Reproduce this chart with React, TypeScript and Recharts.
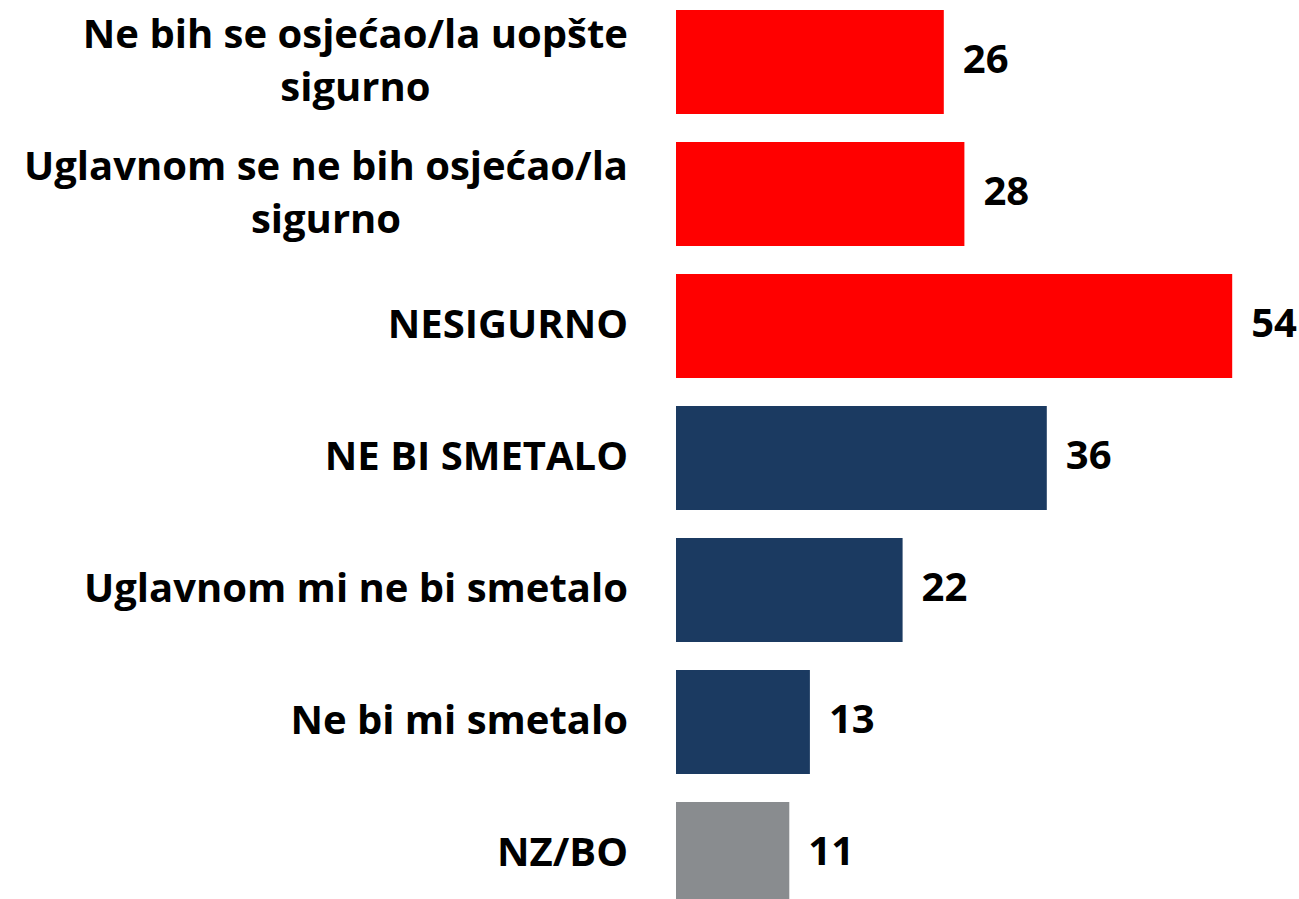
import { BarChart, Bar, XAxis, YAxis, Cell, LabelList } from 'recharts';

const categories = [
  'Ne bih se osjećao/la uopšte sigurno',
  'Uglavnom se ne bih osjećao/la sigurno',
  'NESIGURNO',
  'NE BI SMETALO',
  'Uglavnom mi ne bi smetalo',
  'Ne bi mi smetalo',
  'NZ/BO',
];
const values = [26, 28, 54, 36, 22, 13, 11];
const groups = ['nesigurno', 'nesigurno', 'nesigurno', 'smeta', 'smeta', 'smeta', 'nzbo'];

const palette: Record<string, string> = {
  nesigurno: '#FF0000',
  smeta: '#1B3A61',
  nzbo: '#898C8F',
};

const data = categories.map((name, i) => ({ name, value: values[i], group: groups[i] }));

const FONT_FAMILY = '"Open Sans", Lato, sans-serif';
const FONT_SIZE = 40;

let ctx: CanvasRenderingContext2D | null = null;
const measure = (s: string) => {
  if (!ctx) ctx = document.createElement('canvas').getContext('2d');
  ctx!.font = `bold ${FONT_SIZE}px "Open Sans"`;
  return ctx!.measureText(s).width;
};

// wrap like the original category axis does
const wrap = (text: string, max: number) => {
  const words = text.split(' ');
  const lines: string[] = [];
  let cur = '';
  for (const w of words) {
    const next = cur ? cur + ' ' + w : w;
    if (cur && measure(next) > max) {
      lines.push(cur);
      cur = w;
    } else {
      cur = next;
    }
  }
  lines.push(cur);
  return lines;
};

const CategoryTick = (props: any) => {
  const { x, y, payload } = props;
  const lines = wrap(payload.value, 650);
  const widest = Math.max(...lines.map(measure));
  const cx = x - widest / 2;
  const lineH = 53;
  const first = y - ((lines.length - 1) * lineH) / 2;
  return (
    <text
      textAnchor="middle"
      fill="#000"
      fontFamily={FONT_FAMILY}
      fontWeight={700}
      fontSize={FONT_SIZE}
    >
      {lines.map((l, i) => (
        <tspan key={i} x={cx} y={first + i * lineH + 12}>
          {l}
        </tspan>
      ))}
    </text>
  );
};

const ValueLabel = (props: any) => {
  const { x, y, width, height, value } = props;
  return (
    <text
      x={x + width + 19}
      y={y + height / 2 + 11}
      fill="#000"
      fontFamily={FONT_FAMILY}
      fontWeight={700}
      fontSize={FONT_SIZE}
    >
      {value}
    </text>
  );
};

export default function App() {
  return (
    <div
      style={{
        position: 'absolute',
        top: 0,
        left: 0,
        width: 1299,
        height: 899,
        overflow: 'hidden',
        background: '#fff',
      }}
    >
      <div style={{ position: 'absolute', top: -4.5, left: 0 }}>
        <BarChart
          layout="vertical"
          width={1299}
          height={924}
          data={data}
          margin={{ top: 0, right: 5, bottom: 0, left: 0 }}
        >
          <XAxis type="number" domain={[0, 60]} hide />
          <YAxis
            type="category"
            dataKey="name"
            width={676}
            axisLine={false}
            tickLine={false}
            tickSize={0}
            tickMargin={48}
            interval={0}
            tick={<CategoryTick />}
          />
          <Bar dataKey="value" barSize={104} isAnimationActive={false}>
            {data.map((d, i) => (
              <Cell key={i} fill={palette[d.group]} />
            ))}
            <LabelList dataKey="value" content={<ValueLabel />} />
          </Bar>
        </BarChart>
      </div>
    </div>
  );
}
